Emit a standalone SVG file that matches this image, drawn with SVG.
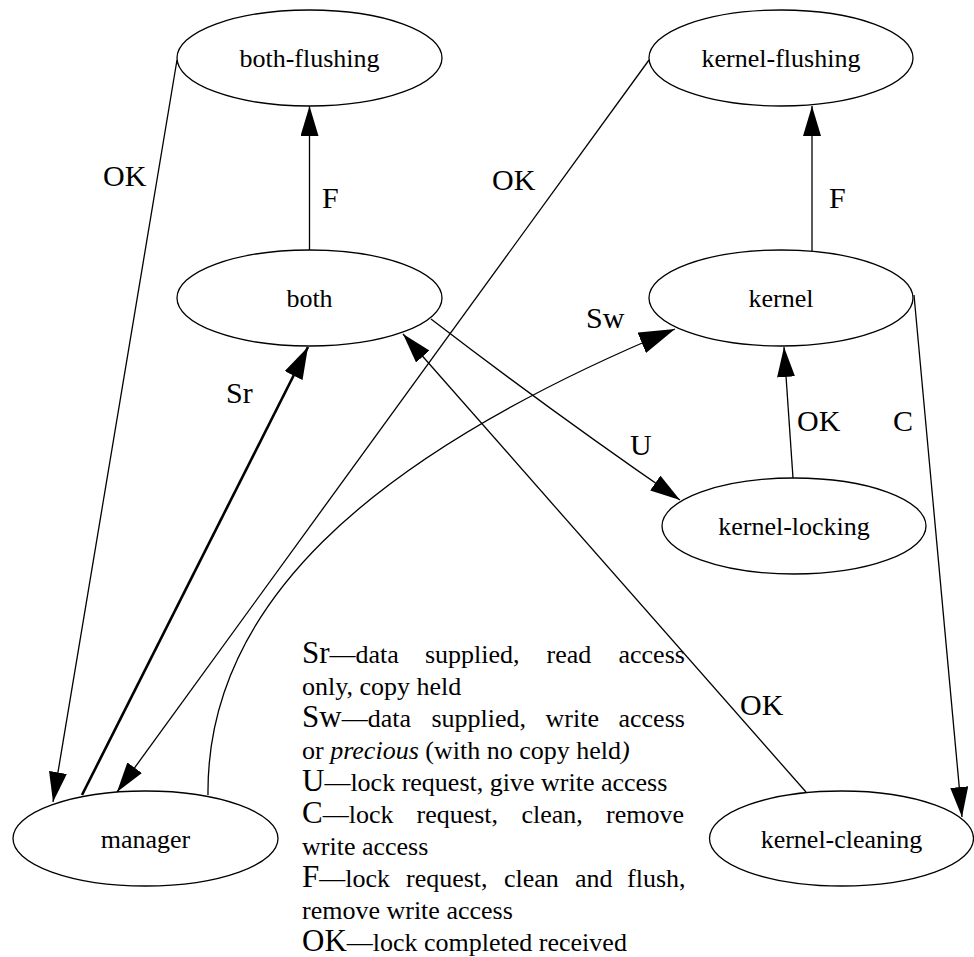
<svg xmlns="http://www.w3.org/2000/svg" width="974" height="957" viewBox="0 0 974 957">
<defs>
<style>
.node ellipse{fill:none;stroke:#000;stroke-width:1.3}
.node text{font-family:"Liberation Serif","Times New Roman",serif;font-size:26px;text-anchor:middle;fill:#000}
.edge path{fill:none;stroke:#000;stroke-width:1.3}
.edge path.bold{stroke-width:2.6}
.elabel{font-family:"Liberation Serif","Times New Roman",serif;font-size:30px;fill:#000}
.legend{font-family:"Liberation Serif","Times New Roman",serif;font-size:26px;fill:#000}
.ab{font-size:31px}
.it{font-style:italic}
</style>
<marker id="arr" markerUnits="userSpaceOnUse" markerWidth="30" markerHeight="18" refX="30" refY="9" orient="auto">
<path d="M0,0 L30,9 L0,18 z" fill="#000"/>
</marker>
<marker id="arrb" markerUnits="userSpaceOnUse" markerWidth="32" markerHeight="20" refX="32" refY="10" orient="auto">
<path d="M0,0 L32,10 L0,20 z" fill="#000"/>
</marker>
<marker id="arrl" markerUnits="userSpaceOnUse" markerWidth="36" markerHeight="22" refX="36" refY="11" orient="auto">
<path d="M0,0 L36,11 L0,22 z" fill="#000"/>
</marker>
</defs>
<rect width="974" height="957" fill="#fff"/>

<g id="edges" class="edge">
<path d="M177,60 L53,802" marker-end="url(#arr)"/>
<path d="M309.5,250 L309.5,106" marker-end="url(#arr)"/>
<path d="M812,251 L812,106" marker-end="url(#arr)"/>
<path d="M649,60 L117,792" marker-end="url(#arr)"/>
<path class="bold" d="M82,795 L308,347" marker-end="url(#arrb)"/>
<path d="M208,795 C206,610 360,460 675,329" marker-end="url(#arrl)"/>
<path d="M431,319 C500,372 600,445 680,500" marker-end="url(#arr)"/>
<path d="M793,478 L784,347" marker-end="url(#arr)"/>
<path d="M914,295 L962,817" marker-end="url(#arr)"/>
<path d="M806,792 L403,334" marker-end="url(#arr)"/>
</g>

<g id="edge-labels">
<text class="elabel" x="103" y="186">OK</text>
<text class="elabel" x="322" y="208">F</text>
<text class="elabel" x="492" y="190">OK</text>
<text class="elabel" x="829" y="208">F</text>
<text class="elabel" x="586" y="328">Sw</text>
<text class="elabel" x="226" y="403">Sr</text>
<text class="elabel" x="630" y="455">U</text>
<text class="elabel" x="797" y="431">OK</text>
<text class="elabel" x="893" y="431">C</text>
<text class="elabel" x="740" y="715">OK</text>
</g>

<g id="both-flushing" class="node"><ellipse cx="309.5" cy="58" rx="132.5" ry="48"/><text x="309.5" y="67">both-flushing</text></g>
<g id="kernel-flushing" class="node"><ellipse cx="781" cy="58" rx="132" ry="48"/><text x="781" y="67">kernel-flushing</text></g>
<g id="both" class="node"><ellipse cx="309.5" cy="298" rx="132.5" ry="48"/><text x="309.5" y="307">both</text></g>
<g id="kernel" class="node"><ellipse cx="781" cy="298" rx="132" ry="48"/><text x="781" y="307">kernel</text></g>
<g id="kernel-locking" class="node"><ellipse cx="794" cy="526" rx="132" ry="48"/><text x="794" y="535">kernel-locking</text></g>
<g id="manager" class="node"><ellipse cx="145.5" cy="838.5" rx="132.5" ry="47.5"/><text x="145.5" y="847.5">manager</text></g>
<g id="kernel-cleaning" class="node"><ellipse cx="841.5" cy="838.5" rx="132" ry="47.5"/><text x="841.5" y="847.5">kernel-cleaning</text></g>

<g id="legend" class="legend">
<text y="663"><tspan x="302"><tspan class="ab">Sr</tspan>—data</tspan><tspan x="425">supplied,</tspan><tspan x="546.5">read</tspan><tspan x="618.5">access</tspan></text>
<text x="302" y="695">only, copy held</text>
<text y="727"><tspan x="302"><tspan class="ab">Sw</tspan>—data</tspan><tspan x="431.5">supplied,</tspan><tspan x="545.5">write</tspan><tspan x="618.5">access</tspan></text>
<text x="302" y="759">or <tspan class="it">precious</tspan> (with no copy held<tspan class="it">)</tspan></text>
<text x="302" y="791"><tspan class="ab">U</tspan>—lock request, give write access</text>
<text y="823"><tspan x="302"><tspan class="ab">C</tspan>—lock</tspan><tspan x="416.5">request,</tspan><tspan x="521.5">clean,</tspan><tspan x="606">remove</tspan></text>
<text x="302" y="855">write access</text>
<text y="887"><tspan x="302"><tspan class="ab">F</tspan>—lock</tspan><tspan x="406">request,</tspan><tspan x="504">clean</tspan><tspan x="575">and</tspan><tspan x="627">flush,</tspan></text>
<text x="302" y="919">remove write access</text>
<text x="302" y="951"><tspan class="ab">OK</tspan>—lock completed received</text>
</g>
</svg>
